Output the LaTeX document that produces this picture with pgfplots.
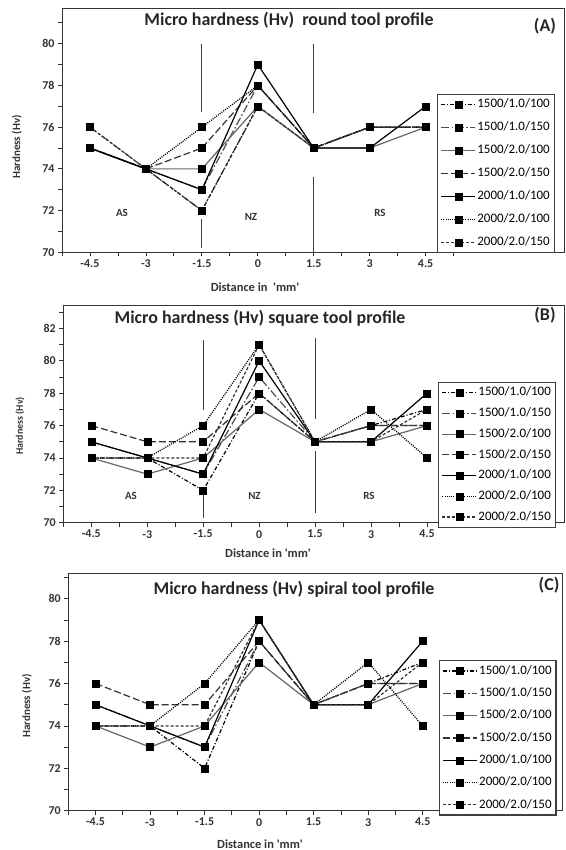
\documentclass[border=0pt]{standalone}
\usepackage{fontspec}
\setmainfont{Carlito}
\newfontfamily\plainquote{Carlito}[Ligatures=TeXOff]
\usepackage{pgfplots}
\usepackage{pgfplotstable}
\pgfplotsset{compat=1.18}

% x: distance in mm; s1..s7: 1500/1.0/100 ... 2000/2.0/150
\pgfplotstableread{
x    s1 s2 s3 s4 s5 s6 s7
-4.5 75 76 75 75 75 75 76
-3   74 74 74 74 74 74 74
-1.5 72 73 74 75 73 76 72
0    77 78 77 78 79 78 77
1.5  75 75 75 75 75 75 75
3    76 76 75 76 75 76 76
4.5  76 76 76 76 77 76 76
}\roundtbl
\pgfplotstableread{
x    s1 s2 s3 s4 s5 s6 s7
-4.5 74 75 74 76 75 74 74
-3   74 74 73 75 74 74 74
-1.5 72 73 74 75 73 76 74
0    78 79 77 78 80 81 81
1.5  75 75 75 75 75 75 75
3    76 76 75 76 75 77 75
4.5  77 76 76 76 78 74 77
}\squaretbl
\pgfplotstableread{
x    s1 s2 s3 s4 s5 s6 s7
-4.5 74 75 74 76 75 74 74
-3   74 74 73 75 74 74 74
-1.5 72 73 74 75 73 76 74
0    78 78 77 78 79 79 79
1.5  75 75 75 75 75 75 75
3    76 76 75 76 75 77 75
4.5  77 76 76 76 78 74 77
}\spiraltbl

\tikzset{
  s1/.style={black, line width=1.2bp, dash pattern=on 4bp off 2bp on 1bp off 2bp},
  s2/.style={black!70, line width=1.2bp, dash pattern=on 8bp off 2.5bp on 1.5bp off 2.5bp},
  s3/.style={black!60, line width=1.2bp},
  s4/.style={black!80, line width=1.2bp, dash pattern=on 7bp off 3bp},
  s5/.style={black, line width=1.2bp},
  s6/.style={black, line width=1.3bp, dash pattern=on 1bp off 1.2bp},
  s7/.style={black!80, line width=1.2bp, dash pattern=on 3bp off 2bp},
  sep/.style={black!75, line width=1bp},
}

\pgfplotsset{
  hardness/.style={
    scale only axis, anchor=south west,
    xmin=-5.25, ymin=70,
    axis line style={black!80, line width=1bp},
    tick style={black!80, line width=0.8bp},
    tick align=outside, major tick length=4bp, minor tick length=4bp,
    xtick pos=left, ytick pos=left,
    xtick={-4.5,-3,-1.5,0,1.5,3,4.5},
    xticklabels={-4.5,-3,-1.5,0,1.5,3,4.5},
    minor xtick={-5.25,-3.75,-2.25,-0.75,0.75,2.25,3.75,5.25},
    ticklabel style={font=\bfseries\fontsize{12}{12}\selectfont, text=black!80},
    /pgf/number format/assume math mode=true,
    every axis plot/.append style={mark=square*, mark size=3.5bp,
      mark options={solid, fill=black, draw=black, line width=0.4bp}},
    legend cell align=left,
    legend image code/.code={\draw[mark repeat=2, mark phase=2, #1]
      plot coordinates {(0bp,0bp) (17bp,0bp) (34bp,0bp)};},
    legend style={anchor=north west, draw=black!75, line width=1.2bp,
      font=\fontsize{13}{13}\selectfont, inner sep=3bp,
      nodes={inner sep=1.5bp, text height=9bp, text depth=2.5bp}},
  },
}

\newcommand{\allplots}[1]{%
  \addplot[s1] table[x=x, y=s1] {#1};
  \addplot[s2] table[x=x, y=s2] {#1};
  \addplot[s3] table[x=x, y=s3] {#1};
  \addplot[s4] table[x=x, y=s4] {#1};
  \addplot[s5] table[x=x, y=s5] {#1};
  \addplot[s6] table[x=x, y=s6] {#1};
  \addplot[s7] table[x=x, y=s7] {#1};
  \legend{1500/1.0/100, 1500/1.0/150, 1500/2.0/100, 1500/2.0/150,
    2000/1.0/100, 2000/2.0/100, 2000/2.0/150}%
}

\begin{document}
\begin{tikzpicture}
\path[use as bounding box] (0,0) rectangle (566bp,-850bp);

% (A) round tool
\begin{axis}[hardness, at={(62bp,-252.3bp)}, width=502bp, height=244bp,
  xmax=8.21, ymax=81.7, ytick={70,72,...,80}, minor ytick={71,73,...,81},
  legend style={at={(rel axis cs:0.747,0.65)}, row sep=8.5bp}]
  \draw[sep] (axis cs:-1.5,80) -- (axis cs:-1.5,76.73);
  \draw[sep] (axis cs:-1.5,71.6) -- (axis cs:-1.5,70.2);
  \draw[sep] (axis cs:1.5,80) -- (axis cs:1.5,76.7);
  \draw[sep] (axis cs:1.5,73.6) -- (axis cs:1.5,70);
  \allplots{\roundtbl}
\end{axis}

% (B) square tool
\begin{axis}[hardness, at={(63.3bp,-522.7bp)}, width=501.7bp, height=217.7bp,
  xmax=8.2, ymax=83.45, ytick={70,72,...,82}, minor ytick={71,73,...,83},
  legend style={at={(rel axis cs:0.747,0.647)}, row sep=6.2bp}]
  \draw[sep] (axis cs:-1.5,81.3) -- (axis cs:-1.5,76.96);
  \draw[sep] (axis cs:-1.5,71.7) -- (axis cs:-1.5,70.3);
  \draw[sep] (axis cs:1.5,81.4) -- (axis cs:1.5,76.4);
  \draw[sep] (axis cs:1.5,74.4) -- (axis cs:1.5,70.6);
  \allplots{\squaretbl}
\end{axis}

% (C) spiral tool
\begin{axis}[hardness, at={(68.3bp,-810.7bp)}, width=494.7bp, height=237.4bp,
  xmax=8.36, ymax=81.2, ytick={70,72,...,80}, minor ytick={71,73,...,81},
  legend style={at={(rel axis cs:0.749,0.634)}, row sep=7.8bp}]
  \allplots{\spiraltbl}
\end{axis}

% titles and labels
\tikzset{ttl/.style={font=\bfseries\fontsize{18}{18}\selectfont, text=black!85},
  lab/.style={font=\plainquote\bfseries\fontsize{12.5}{12.5}\selectfont, text=black!80},
  zone/.style={font=\bfseries\fontsize{11}{11}\selectfont, text=black!80}}

\node[ttl] at (289bp,-20.7bp) {Micro hardness (Hv)~ round tool profile};
\node[ttl] at (545bp,-26bp) {(A)};
\node[lab, rotate=90] at (17bp,-147bp) {\fontsize{11}{11}\selectfont Hardness (Hv)};
\node[lab] at (255bp,-287bp) {Distance in~ 'mm'};
\node[zone] at (122bp,-213bp) {AS};
\node[zone] at (251bp,-217bp) {NZ};
\node[zone] at (380bp,-213bp) {RS};

\node[ttl] at (260bp,-318bp) {Micro hardness (Hv) square tool profile};
\node[ttl] at (545bp,-315bp) {(B)};
\node[lab, rotate=90] at (20bp,-426bp) {\fontsize{10}{10}\selectfont Hardness (Hv)};
\node[lab] at (268bp,-552.7bp) {Distance in 'mm'};
\node[zone] at (131bp,-496bp) {AS};
\node[zone] at (254.5bp,-496bp) {NZ};
\node[zone] at (369bp,-496bp) {RS};

\node[ttl] at (294bp,-589bp) {Micro hardness (Hv) spiral tool profile};
\node[ttl] at (549bp,-585bp) {(C)};
\node[lab, rotate=90] at (27bp,-706bp) {\fontsize{11}{11}\selectfont Hardness (Hv)};
\node[lab] at (260bp,-844bp) {Distance in 'mm'};
\end{tikzpicture}
\end{document}
